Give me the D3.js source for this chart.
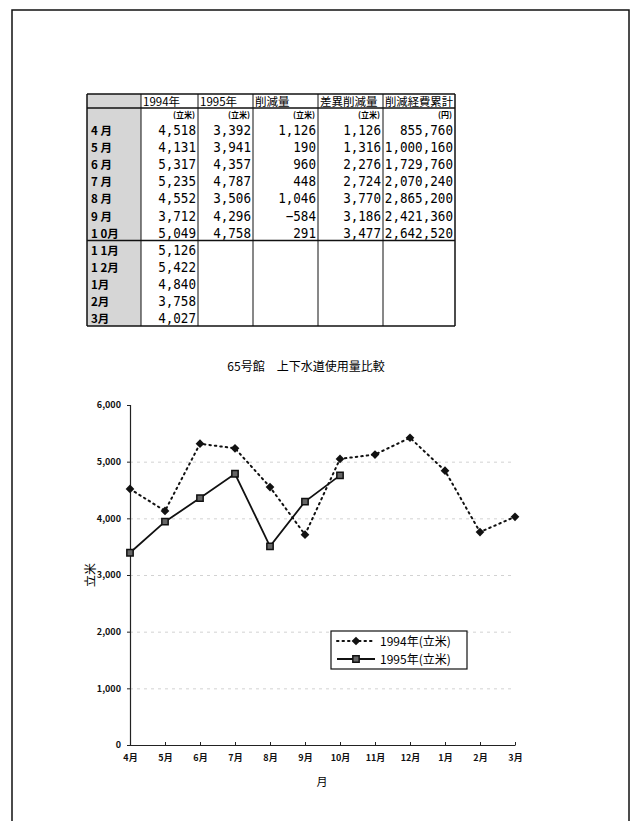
<!DOCTYPE html>
<html>
<head>
<meta charset="utf-8">
<script src="https://cdn.jsdelivr.net/npm/d3@7"></script>
<style>
  html, body { margin: 0; padding: 0; background: #fff; }
  svg { display: block; }
</style>
</head>
<body>
<svg id="page" width="639" height="821"></svg>
<script>
// Monthly water usage, building 65 (fiscal year April–March)
const months = ["4月","5月","6月","7月","8月","9月","10月","11月","12月","1月","2月","3月"];
const tableMonths = ["4 月","5 月","6 月","7 月","8 月","9 月","1 0月","1 1月","1 2月","1月","2月","3月"];
const usage1994 = [4518, 4131, 5317, 5235, 4552, 3712, 5049, 5126, 5422, 4840, 3758, 4027];
const usage1995 = [3392, 3941, 4357, 4787, 3506, 4296, 4758];
const reduction = [1126, 190, 960, 448, 1046, -584, 291];
const cumulativeReduction = [1126, 1316, 2276, 2724, 3770, 3186, 3477];
const cumulativeSavings = [855760, 1000160, 1729760, 2070240, 2865200, 2421360, 2642520];
const tableHeaders = ["", "1994年", "1995年", "削減量", "差異削減量", "削減経費累計"];
const tableUnits = ["", "(立米)", "(立米)", "(立米)", "(立米)", "(円)"];
const yTicks = [0, 1000, 2000, 3000, 4000, 5000, 6000];
const gridTicks = [1000, 2000, 3000, 4000, 5000];
const chartTitle = "65号館　上下水道使用量比較";
const seriesNames = ["1994年(立米)", "1995年(立米)"];

const svg = d3.select("#page");
const fmt = d3.format(",");
const jp = "'Noto Sans CJK JP', sans-serif";
const mono = "'DejaVu Sans Mono', monospace";

// page frame
svg.append("rect")
  .attr("x", 12).attr("y", 10).attr("width", 617).attr("height", 812)
  .attr("fill", "none").attr("stroke", "#111").attr("stroke-width", 1.5);

// ---------- table ----------
const colEdges = [87, 141, 198, 253, 318, 383, 455];
const tableTop = 94, headerH = 14, unitH = 13;
const bodyTop = tableTop + headerH + unitH;
const tableBottom = 326;
const rowScale = d3.scaleBand().domain(d3.range(tableMonths.length)).range([bodyTop, tableBottom]);

const table = svg.append("g");

// shaded label column
table.append("rect")
  .attr("x", colEdges[0]).attr("y", tableTop)
  .attr("width", colEdges[1] - colEdges[0]).attr("height", tableBottom - tableTop)
  .attr("fill", "#d6d6d6");

// header
table.selectAll("text.hdr").data(tableHeaders).join("text")
  .attr("class", "hdr")
  .attr("x", (d, i) => colEdges[i] + 2)
  .attr("y", tableTop + headerH - 2)
  .attr("font-family", jp).attr("font-size", 11.5)
  .attr("textLength", (d, i) => i === 5 ? 68 : null)
  .attr("lengthAdjust", "spacingAndGlyphs")
  .text(d => d);

// units row
table.selectAll("text.unit").data(tableUnits).join("text")
  .attr("class", "unit")
  .attr("x", (d, i) => colEdges[i + 1] - 3)
  .attr("y", tableTop + headerH + unitH - 3)
  .attr("text-anchor", "end")
  .attr("font-family", jp).attr("font-size", 8).attr("font-weight", 700)
  .text(d => d);

// month labels
table.selectAll("text.mon").data(tableMonths).join("text")
  .attr("class", "mon")
  .attr("x", colEdges[0] + 4)
  .attr("y", (d, i) => rowScale(i) + rowScale.bandwidth() - 3)
  .attr("font-family", jp).attr("font-size", 11.5).attr("font-weight", 700)
  .text(d => d);

// numeric columns (narrow digits)
const columns = [usage1994, usage1995, reduction, cumulativeReduction, cumulativeSavings];
columns.forEach((vals, c) => {
  table.append("g").selectAll("text").data(vals).join("text")
    .attr("transform", (d, i) =>
      `translate(${colEdges[c + 2] - 2},${rowScale(i) + rowScale.bandwidth() - 3}) scale(0.9,1)`)
    .attr("text-anchor", "end")
    .attr("font-family", mono).attr("font-size", 14)
    .text(d => fmt(d));
});

// grid lines of the table
const lineColor = "#111";
colEdges.forEach((x, i) => {
  table.append("line")
    .attr("x1", x).attr("x2", x).attr("y1", tableTop).attr("y2", tableBottom)
    .attr("stroke", lineColor).attr("stroke-width", (i === 0 || i === colEdges.length - 1) ? 1.5 : 1);
});
[tableTop, tableTop + headerH, tableBottom].forEach(y => {
  table.append("line")
    .attr("x1", colEdges[0]).attr("x2", colEdges[colEdges.length - 1])
    .attr("y1", y).attr("y2", y)
    .attr("stroke", lineColor).attr("stroke-width", 1.5);
});
table.append("line")
  .attr("x1", colEdges[0]).attr("x2", colEdges[colEdges.length - 1])
  .attr("y1", rowScale(7)).attr("y2", rowScale(7))
  .attr("stroke", lineColor).attr("stroke-width", 1.5);

// ---------- chart ----------
const x = d3.scalePoint().domain(months).range([130, 515]);
const y = d3.scaleLinear().domain([0, 6000]).range([745, 405]);
const chart = svg.append("g");

svg.append("text")
  .attr("x", 306).attr("y", 371)
  .attr("text-anchor", "middle")
  .attr("font-family", jp).attr("font-size", 12)
  .text(chartTitle);

// horizontal grid
chart.append("g")
  .attr("transform", "translate(130,0)")
  .call(d3.axisRight(y).tickValues(gridTicks).tickSize(385).tickFormat(""))
  .call(g => g.select(".domain").remove())
  .call(g => g.selectAll("line").attr("stroke", "#d2d2d2").attr("stroke-dasharray", "3,4"));

// y axis
chart.append("g")
  .attr("transform", "translate(130,0)")
  .call(d3.axisLeft(y).tickValues(yTicks).tickSize(3).tickPadding(6).tickFormat(fmt))
  .call(g => g.select(".domain").attr("stroke", "#222").attr("stroke-width", 1.2))
  .call(g => g.selectAll("line").attr("stroke", "#222"))
  .call(g => g.selectAll("text").attr("font-family", jp).attr("font-size", 9)
    .attr("font-weight", 700).attr("fill", "#111"));

// x axis
chart.append("g")
  .attr("transform", "translate(0,745)")
  .call(d3.axisBottom(x).tickSize(-3).tickPadding(10).tickSizeOuter(0))
  .call(g => g.select(".domain").attr("stroke", "#222").attr("stroke-width", 1.2))
  .call(g => g.selectAll("line").attr("stroke", "#222"))
  .call(g => g.selectAll("text").attr("font-family", jp).attr("font-size", 9)
    .attr("font-weight", 700).attr("fill", "#111"));

// axis titles
svg.append("text")
  .attr("x", 322).attr("y", 786)
  .attr("text-anchor", "middle")
  .attr("font-family", jp).attr("font-size", 11)
  .text("月");
svg.append("text")
  .attr("transform", "translate(95,575) rotate(-90)")
  .attr("text-anchor", "middle")
  .attr("font-family", jp).attr("font-size", 12)
  .text("立米");

// series lines
const line = d3.line().x((d, i) => x(months[i])).y(d => y(d));
chart.append("path")
  .attr("d", line(usage1994))
  .attr("fill", "none").attr("stroke", "#111").attr("stroke-width", 2)
  .attr("stroke-dasharray", "1.5,4").attr("stroke-linecap", "round");
chart.append("path")
  .attr("d", line(usage1995))
  .attr("fill", "none").attr("stroke", "#111").attr("stroke-width", 1.8);

// markers
const diamond = d3.symbol().type(d3.symbolSquare).size(38);
const square = d3.symbol().type(d3.symbolSquare).size(40);
chart.append("g").selectAll("path").data(usage1994).join("path")
  .attr("transform", (d, i) => `translate(${x(months[i])},${y(d)}) rotate(45)`)
  .attr("d", diamond)
  .attr("fill", "#111");
chart.append("g").selectAll("path").data(usage1995).join("path")
  .attr("transform", (d, i) => `translate(${x(months[i])},${y(d)})`)
  .attr("d", square)
  .attr("fill", "#666").attr("stroke", "#111").attr("stroke-width", 1.5);

// legend
const legend = svg.append("g").attr("transform", "translate(331,631)");
legend.append("rect")
  .attr("width", 136).attr("height", 38)
  .attr("fill", "#fff").attr("stroke", "#111").attr("stroke-width", 1.2);
const legendRows = [
  { name: seriesNames[0], dash: "1.5,4", marker: "diamond" },
  { name: seriesNames[1], dash: null, marker: "square" }
];
legendRows.forEach((r, i) => {
  const ly = 10 + i * 18;
  legend.append("line")
    .attr("x1", 6).attr("x2", 44).attr("y1", ly).attr("y2", ly)
    .attr("stroke", "#111").attr("stroke-width", r.dash ? 2 : 1.8)
    .attr("stroke-dasharray", r.dash).attr("stroke-linecap", r.dash ? "round" : null);
  if (r.marker === "diamond") {
    legend.append("path")
      .attr("transform", `translate(25,${ly}) rotate(45)`)
      .attr("d", diamond)
      .attr("fill", "#111");
  } else {
    legend.append("path")
      .attr("transform", `translate(25,${ly})`)
      .attr("d", square)
      .attr("fill", "#666").attr("stroke", "#111").attr("stroke-width", 1.5);
  }
  legend.append("text")
    .attr("x", 49).attr("y", ly + 4.5)
    .attr("font-family", jp).attr("font-size", 12)
    .text(r.name);
});
</script>
</body>
</html>
